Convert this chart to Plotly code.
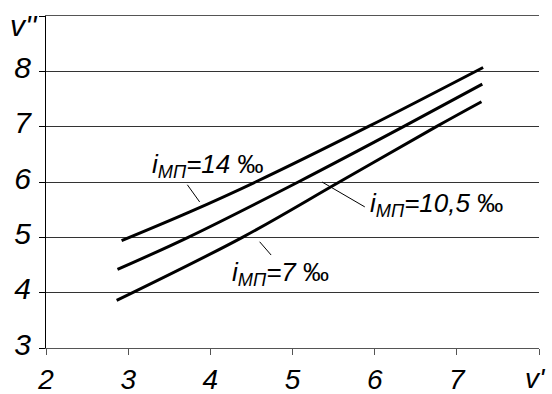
import plotly.graph_objects as go

# Data
x_14 = [2.92, 3.75, 4.55, 5.92, 7.32]
y_14 = [4.94, 5.46, 6.00, 7.00, 8.07]
x_105 = [2.87, 3.73, 5.07, 6.35, 7.31]
y_105 = [4.42, 5.00, 6.00, 7.00, 7.77]
x_7 = [2.86, 4.39, 5.57, 6.75, 7.30]
y_7 = [3.86, 5.00, 6.00, 7.00, 7.45]

x_ticks = [2, 3, 4, 5, 6, 7, 8]
x_ticktext = ["2", "3", "4", "5", "6", "7", ""]
y_ticks = [3, 4, 5, 6, 7, 8, 9]
y_ticktext = ["3", "4", "5", "6", "7", "8", ""]

FONT = "Liberation Sans, Arial, sans-serif"

fig = go.Figure()
for xs, ys in [(x_14, y_14), (x_105, y_105), (x_7, y_7)]:
    fig.add_trace(go.Scatter(x=xs, y=ys, mode="lines",
                             line=dict(color="black", width=3, shape="spline", smoothing=1.0),
                             showlegend=False, hoverinfo="skip"))

# leader lines
leaders = [
    ([3.72, 3.87], [5.95, 5.64]),
    ([5.36, 5.88], [6.00, 5.55]),
    ([4.60, 4.74], [4.92, 4.68]),
]
for lx, ly in leaders:
    fig.add_trace(go.Scatter(x=lx, y=ly, mode="lines",
                             line=dict(color="black", width=1),
                             showlegend=False, hoverinfo="skip"))

labels = [
    (3.97, 6.29, "center", "<i>i<sub>МП</sub>=14</i> ‰"),
    (5.92, 5.60, "left", "<i>i<sub>МП</sub>=10,5</i> ‰"),
    (4.24, 4.34, "left", "<i>i<sub>МП</sub>=7</i> ‰"),
]
for lx, ly, anchor, txt in labels:
    fig.add_annotation(x=lx, y=ly, text=txt, showarrow=False, xanchor=anchor,
                       yanchor="middle",
                       font=dict(family=FONT, size=26, color="black"))

# axis titles
fig.add_annotation(xref="paper", yref="paper", x=-0.078, y=1.027, text="v''",
                   showarrow=False, xanchor="left", yanchor="top",
                   font=dict(family=FONT, size=30, color="black", style="italic"))
fig.add_annotation(xref="paper", yref="paper", x=0.993, y=-0.04, text="v'",
                   showarrow=False, xanchor="center", yanchor="top",
                   font=dict(family=FONT, size=28, color="black", style="italic"))

fig.update_xaxes(range=[2, 8], tickvals=x_ticks, ticktext=x_ticktext, automargin=False,
                 showgrid=False, zeroline=False, showline=True, linecolor="#555",
                 mirror=True,
                 linewidth=1, ticks="outside", ticklen=6, tickcolor="#555",
                 ticklabelstandoff=0,
                 tickfont=dict(family=FONT, size=28, color="black", style="italic"))
fig.update_yaxes(range=[3, 9], tickvals=y_ticks, ticktext=y_ticktext, automargin=False,
                 showgrid=True, gridcolor="#333", gridwidth=1, zeroline=False,
                 showline=True, linecolor="black", linewidth=1, ticks="outside",
                 ticklen=6, tickcolor="black", ticklabelshift=-4, ticklabelstandoff=2,
                 tickfont=dict(family=FONT, size=30, color="black", style="italic"))

fig.update_layout(width=552, height=394, margin=dict(l=46, r=13, t=16, b=46),
                  paper_bgcolor="white", plot_bgcolor="white")

fig.write_html("out.html", config={"displayModeBar": False},
               post_script="document.body.style.margin='0';document.body.style.padding='0';")
